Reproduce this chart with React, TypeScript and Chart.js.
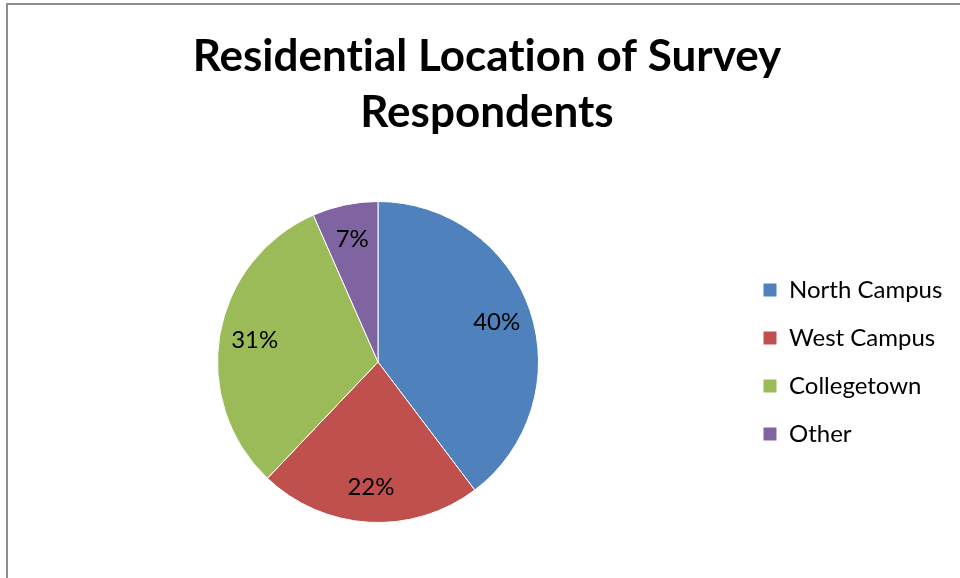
import React, { useEffect, useRef } from "react";
import { Chart, registerables } from "chart.js";

Chart.register(...registerables);

const categories = ["North Campus", "West Campus", "Collegetown", "Other"];
const shares = [39.7, 22.4, 31.3, 6.6];
const sliceColors = ["#4F81BD", "#C0504D", "#9BBB59", "#8064A2"];
const titleLines = ["Residential Location of Survey", "Respondents"];

const FONT = "Lato, 'Noto Sans', sans-serif";
const LEGEND_WIDTH = 218;

const textSetup = {
  id: "textSetup",
  beforeLayout(chart: any) {
    const lg = chart.legend;
    if (lg && !lg.__fixedWidth) {
      const orig = lg.fit.bind(lg);
      lg.fit = function () {
        orig();
        this.width = LEGEND_WIDTH;
      };
      lg.__fixedWidth = true;
    }
  },
  beforeDraw(chart: any) {
    const ctx = chart.ctx as any;
    ctx.textRendering = "optimizeSpeed";
  },
};

const pctLabels = {
  id: "pctLabels",
  afterDatasetsDraw(chart: any) {
    const ctx = chart.ctx;
    const meta = chart.getDatasetMeta(0);
    const data = chart.data.datasets[0].data as number[];
    const total = data.reduce((a, b) => a + b, 0);
    ctx.save();
    ctx.font = `24px ${FONT}`;
    ctx.fillStyle = "#000";
    ctx.textAlign = "center";
    ctx.textBaseline = "middle";
    meta.data.forEach((arc: any, i: number) => {
      const { x, y, startAngle, endAngle, outerRadius } = arc.getProps(
        ["x", "y", "startAngle", "endAngle", "outerRadius"],
        true
      );
      const mid = (startAngle + endAngle) / 2;
      const r = outerRadius * 0.78;
      const label = Math.round((data[i] / total) * 100) + "%";
      ctx.fillText(label, x + Math.cos(mid) * r, y + Math.sin(mid) * r);
    });
    ctx.restore();
  },
};

export default function App() {
  const ref = useRef<HTMLCanvasElement>(null);
  useEffect(() => {
    if (!ref.current) return;
    const chart = new Chart(ref.current, {
      type: "pie",
      data: {
        labels: categories,
        datasets: [
          {
            data: shares,
            backgroundColor: sliceColors,
            borderColor: "#ffffff",
            borderWidth: 1,
          },
        ],
      },
      options: {
        animation: false,
        responsive: false,
        maintainAspectRatio: false,
        layout: { padding: { left: 10, right: 10, top: 0, bottom: 55 } },
        plugins: {
          title: {
            display: true,
            text: titleLines,
            color: "#000",
            font: { family: FONT, size: 44, weight: "bold", lineHeight: 56 / 44 },
            padding: { top: 29, bottom: 60 },
          },
          legend: {
            position: "right",
            fullSize: false,
            labels: {
              boxWidth: 14,
              boxHeight: 14,
              padding: 24,
              color: "#000",
              font: { family: FONT, size: 24 },
            },
          },
          tooltip: { enabled: false },
        },
      },
      plugins: [textSetup, pctLabels],
    });
    return () => chart.destroy();
  }, []);
  return (
    <div
      style={{
        position: "fixed",
        left: 0,
        top: 0,
        width: 960,
        height: 578,
        overflow: "hidden",
        background: "#fff",
      }}
    >
      <div
        style={{
          position: "absolute",
          left: 6,
          top: 3,
          width: 1200,
          height: 1200,
          border: "2px solid #8c8c8c",
          boxSizing: "border-box",
        }}
      />
      <canvas
        ref={ref}
        width={960}
        height={578}
        style={{ position: "absolute", left: 7, top: 0, width: 960, height: 578 }}
      />
    </div>
  );
}
